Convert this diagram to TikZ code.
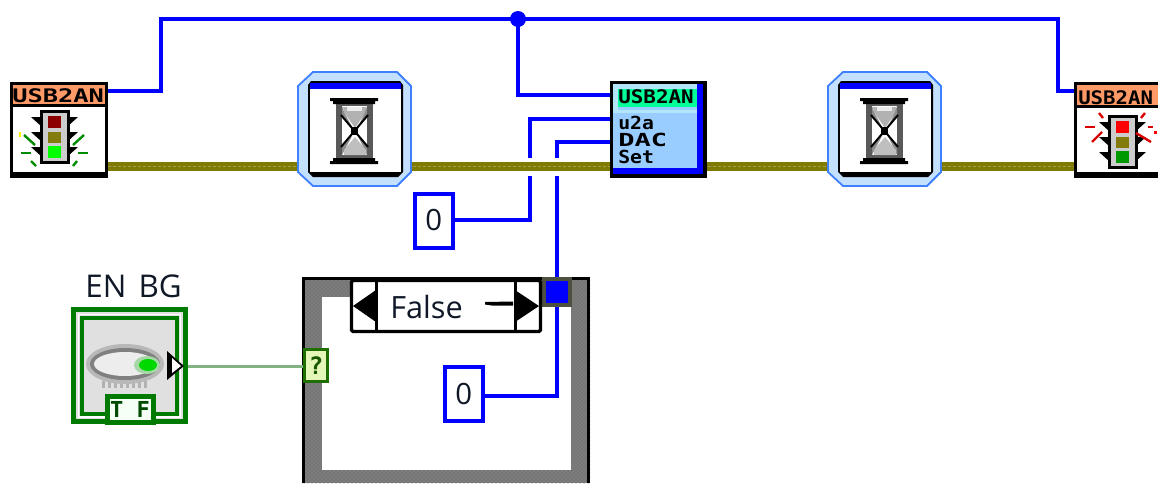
\documentclass[tikz,border=0pt]{standalone}
\usepackage{graphicx}
\usepackage{fontspec}
\setmainfont{Open Sans}
\newfontfamily\pixfont{DejaVu Sans Mono}[BoldFont={DejaVu Sans Mono Bold}]
\usetikzlibrary{backgrounds,patterns}
\def\pxu{0.75pt}
\definecolor{wblue}{HTML}{0000FF}
\definecolor{wbrown}{HTML}{7F7A00}
\definecolor{wbrownl}{HTML}{A39D45}
\definecolor{wgreen}{HTML}{82B182}
\definecolor{iconorange}{HTML}{FF9966}
\definecolor{iconmint}{HTML}{00FF99}
\definecolor{iconsky}{HTML}{99CCFF}
\definecolor{ctlgreen}{HTML}{007A00}
\definecolor{casegrey}{HTML}{7C7C7C}
\definecolor{haloedge}{HTML}{3F80FF}
\definecolor{halofill}{HTML}{C4E0FF}
\definecolor{tunnelrim}{HTML}{505040}
\definecolor{qgreen}{HTML}{1E6E00}
\definecolor{qfill}{HTML}{E4F7B8}
\definecolor{textdark}{HTML}{101828}
\tikzset{
  x=\pxu, y=-\pxu,
  bw/.style={draw=wblue,line width=3.4*\pxu,line join=miter},
  brownwire/.style={draw=wbrown,line width=9*\pxu},
  brownhi/.style={draw=wbrownl,line width=1.2*\pxu,dash pattern=on 3*\pxu off 2*\pxu},
  gapwire/.style={draw=white,line width=18*\pxu},
  greenwire/.style={draw=wgreen,line width=3*\pxu},
  iconbox/.style={rectangle,draw=black,fill=white,line width=3*\pxu,inner sep=0pt},
  const/.style={rectangle,draw=wblue,fill=white,line width=4*\pxu,inner sep=0pt,
     minimum width=38*\pxu,minimum height=54*\pxu,font=\fontsize{22pt}{22pt}\selectfont,text=textdark},
  hdr/.style={anchor=base west,inner sep=0pt,font=\pixfont\bfseries\fontsize{13.4pt}{13.4pt}\selectfont},
  small/.style={anchor=base west,inner sep=0pt,font=\pixfont\bfseries\fontsize{13.5pt}{13.5pt}\selectfont},
  halo/.style={draw=haloedge,fill=halofill,line width=1.8*\pxu},
  casebox/.style={rectangle,fill=casegrey,inner sep=0pt,minimum width=288*\pxu,minimum height=206*\pxu},
}
\newcommand{\tlight}[3]{% red, olive, green lamps; drawn in the left-icon frame
  \foreach \yy in {117,132,147}{
    \fill[black] (31,\yy) -- (41,\yy) -- (41,\yy+9) -- cycle;
    \fill[black] (78,\yy) -- (68,\yy) -- (68,\yy+9) -- cycle;
  }
  \draw[black,fill=black!20,line width=3*\pxu] (41,111) rectangle (68,162);
  \fill[#1] (48,116) rectangle (61,128);
  \fill[#2] (48,132) rectangle (61,143);
  \fill[#3] (48,146) rectangle (61,158);
}
\newcommand{\hourglass}{%
  \fill[black] (308,85) -- (311,81) -- (400,81) -- (403,85) -- (403,172) -- (398,177) -- (313,177) -- (308,172) -- cycle;
  \fill[wblue] (310,83) rectangle (401,89);
  \fill[white] (310,89) rectangle (401,172);
  \fill[black!65] (336,102) rectangle (373,160);
  \fill[white] (342,106) rectangle (367,155);
  \fill[black!30] (343,107) -- (366,107) -- (366,112) -- (355,128) -- (344,112) -- cycle;
  \fill[black!8] (347,107) -- (362,107) -- (362,111) -- (347,111) -- cycle;
  \fill[black!45] (342,106) -- (344,112) -- (352,127) -- (342,116) -- cycle;
  \fill[black!45] (367,106) -- (365,112) -- (358,127) -- (367,116) -- cycle;
  \fill[black!45] (342,155) -- (342,145) -- (352,136) -- cycle;
  \fill[black!45] (367,155) -- (367,145) -- (358,136) -- cycle;
  \fill[black!25] (355,137) -- (366,150) -- (366,155) -- (344,155) -- (344,150) -- cycle;
  \draw[black,line width=2*\pxu] (341,115) -- (368,147) (368,115) -- (341,147);
  \fill[black] (351,127) rectangle (358,135);
  \fill[black] (330,98) rectangle (378,101) (333,101) rectangle (375,104);
  \fill[black] (333,158) rectangle (375,161) (330,161) rectangle (378,164);
}
\begin{document}
\begin{tikzpicture}
\useasboundingbox (0,0) rectangle (1158,483);

% ---------- nodes on the main layer
\node[iconbox,minimum width=95*\pxu,minimum height=93*\pxu] (lstart) at (58.5,129.5) {};
\node[rectangle,inner sep=0pt,minimum width=114*\pxu,minimum height=114*\pxu] (wait1) at (355,129) {};
\node[rectangle,inner sep=0pt,minimum width=114*\pxu,minimum height=114*\pxu] (wait2) at (885,129) {};
\node[iconbox,fill=iconsky,minimum width=94*\pxu,minimum height=94*\pxu] (dac) at (658,129.5) {};
\node[rectangle,fill=white,inner sep=0pt,minimum width=84*\pxu,minimum height=95*\pxu] (lstop) at (1116,129.5) {};
\node[const] (c1) at (433.8,220.5) {0};
\node[const] (c2) at (463.8,394) {0};
\node[rectangle,draw=tunnelrim,fill=wblue,line width=4*\pxu,inner sep=0pt,minimum width=26*\pxu,minimum height=26*\pxu] (tun) at (557,292) {};
\node[rectangle,draw=qgreen,fill=qfill,line width=3*\pxu,inner sep=0pt,minimum width=23*\pxu,minimum height=32*\pxu,
      font=\pixfont\bfseries\fontsize{18pt}{18pt}\selectfont,text=qgreen!80!black] (sel) at (316,365.5) {?};
\node[rectangle,draw=ctlgreen,fill=black!12,line width=5*\pxu,inner sep=0pt,minimum width=112*\pxu,minimum height=112*\pxu] (en) at (129.5,365.5) {};
\node[inner sep=0pt,font=\fontsize{23.5pt}{23.5pt}\selectfont,text=textdark] (enlabel) at (133.5,286) {EN\hspace{3pt} BG};

% ---------- wires and the case frame, under the nodes
\begin{pgfonlayer}{background}
  \fill[white] (0,0) rectangle (1158,483);
  \node[casebox,anchor=north west] (case) at (302,277) {};
  \fill[pattern=crosshatch dots,pattern color=black!60] (302,277) rectangle (590,483);
  \fill[white] (322,297) rectangle (571,470);
  \draw[black,line width=3.2*\pxu] (303.5,483) -- (303.5,278.5) -- (588.5,278.5) -- (588.5,483);

  \fill[wblue] (518,19) circle (8);
  \draw[bw] (lstart.east |- 0,91) -- (161,91) |- (1058,19) |- (lstop.west |- 0,91);
  \draw[bw] (518,19) |- (dac.west |- 0,95);
  \draw[bw] (c1.east |- 0,220) -| (530,119) -- (dac.west |- 0,119);
  \draw[bw] (tun.south) |- (c2.east |- 0,396);
  \draw[bw] (tun.north) |- (dac.west |- 0,142);
  \draw[gapwire] (520,166.5) -- (567,166.5);
  \draw[brownwire] (lstart.east |- 0,166.5) -- (lstop.west |- 0,166.5);
  \draw[brownhi] (lstart.east |- 0,166.5) -- (lstop.west |- 0,166.5);
  \draw[greenwire] (en.east |- 0,366) -- (sel.west |- 0,366);
\end{pgfonlayer}

% ---------- start icon
\fill[iconorange] (11,83) rectangle (106,107);
\draw[black,line width=3*\pxu] (11,83) rectangle (106,176);
\fill[black] (10,172) rectangle (107,177);
\fill[black] (10,104) rectangle (107,107);
\node[hdr,font=\pixfont\bfseries\fontsize{14pt}{14pt}\selectfont] (t1) at (12,102) {\scalebox{1.36}[1]{USB2AN}};
\tlight{red!55!black}{olive!90!black}{green}
\foreach \a/\b/\c/\d in {24/135/35/145,21/153/31/153,31/161/36/166,84/135/73/145,78/153/88/153,77/161/73/166}
  \draw[green!55!black,line width=2.4*\pxu] (\a,\b) -- (\c,\d);
\fill[yellow] (19,132) rectangle (21,137);

% ---------- waits
\draw[halo] (313,72) -- (397,72) -- (411,86) -- (411,172) -- (397,186) -- (313,186) -- (298,172) -- (298,86) -- cycle;
\hourglass
\begin{scope}[xshift=530*\pxu]
  \draw[halo] (313,72) -- (397,72) -- (411,86) -- (411,172) -- (397,186) -- (313,186) -- (298,172) -- (298,86) -- cycle;
  \hourglass
\end{scope}

% ---------- DAC icon
\fill[iconsky] (612,84) rectangle (704,175);
\fill[white!70!cyan] (613,84) rectangle (697,89);
\fill[white!70!cyan] (613,84) rectangle (618,110);
\fill[iconmint] (618,89) rectangle (697,107);
\fill[white!70!cyan] (613,110) rectangle (697,113);
\node[hdr,font=\pixfont\bfseries\fontsize{14pt}{14pt}\selectfont] (t2) at (618,103) {\scalebox{1.12}[1]{USB2AN}};
\fill[wblue] (697,84) rectangle (704,175);
\fill[wblue] (613,168) rectangle (704,175);
\draw[black,line width=3.4*\pxu] (611.7,82.7) rectangle (704.5,176);
\node[small] (t3) at (618,129) {\scalebox{1.1}[1]{u2a}};
\node[small] (t4) at (618,146) {\scalebox{1.5}[1]{DAC}};
\node[small] (t5) at (618,163) {\scalebox{1.1}[1]{Set}};

% ---------- stop icon
\fill[iconorange] (1075,83) rectangle (1158,107);
\draw[black,line width=3*\pxu] (1158,83) -- (1075,83) -- (1075,176) -- (1158,176);
\fill[black] (1074,172) rectangle (1158,177);
\fill[black] (1074,105) rectangle (1158,108);
\node[hdr,font=\pixfont\bfseries\fontsize{14pt}{14pt}\selectfont] (t6) at (1078,104) {\scalebox{1.11}[1]{USB2AN}};
\begin{scope}[xshift=1068*\pxu,yshift=-5*\pxu]
  \tlight{red}{olive!90!black}{green!60!black}
\end{scope}
\foreach \a/\b/\c/\d in {1099/113/1103/118,1085/127/1095/127,1092/142/1102/132,1145/113/1141/118,1148/127/1153/127,1136/133/1151/142}
  \draw[red!85!black,line width=2.4*\pxu] (\a,\b) -- (\c,\d);
\fill[red] (1153.5,131) rectangle (1156.5,134);

% ---------- boolean control
\draw[white,line width=1.6*\pxu] (78.5,314.5) rectangle (180.5,417);
\draw[ctlgreen,line width=3.6*\pxu] (82,318) rectangle (177,414);
\fill[black!12] (84,320) rectangle (175,412);
\foreach \xx in {102,108,...,146} \fill[black!30] (\xx,381) rectangle (\xx+3,388);
\fill[black!28] (125,364) ellipse (39 and 20);
\fill[black!50] (125,364) ellipse (35 and 16);
\fill[black!7] (125,364) ellipse (31 and 12);
\fill[green!55!black!35] (147,365) ellipse (13 and 9);
\fill[green!85!black] (148,365) ellipse (9 and 6);
\fill[black] (167,351) -- (184,366) -- (167,380) -- cycle;
\fill[white] (172,358) -- (181,366) -- (172,373) -- cycle;
\node[rectangle,draw=ctlgreen,fill=green!4,line width=5*\pxu,inner sep=0pt,minimum width=46*\pxu,minimum height=26*\pxu,
      font=\pixfont\bfseries\fontsize{16.5pt}{16.5pt}\selectfont,text=ctlgreen!60!black] (tf) at (130,409.5) {T F};

% ---------- selector of the case
\node[rectangle,draw=black,fill=white,line width=3.4*\pxu,rounded corners=1.5*\pxu,inner sep=0pt,minimum width=189*\pxu,minimum height=51*\pxu] (selector) at (446,306) {};
\draw[black,line width=3*\pxu] (376,280) -- (376,332) (515,280) -- (515,332);
\fill[black] (353,306) -- (376,290) -- (376,322) -- cycle;
\fill[black] (539,306) -- (515,290) -- (515,322) -- cycle;
\node[anchor=base west,inner sep=0pt,font=\fontsize{23pt}{23pt}\selectfont,text=textdark] (casename) at (390,318) {False};
\fill[black] (485,302) -- (513,301.5) -- (513,305.5) -- (492,305.5) -- (485,304.5) -- cycle;
\end{tikzpicture}
\end{document}
